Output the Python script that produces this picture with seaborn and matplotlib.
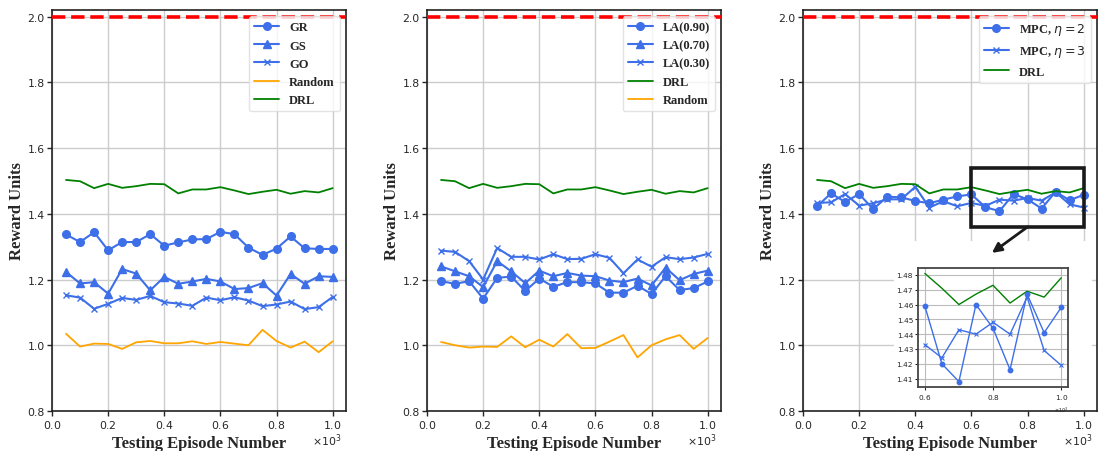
import numpy as np
import pandas as pd
import matplotlib
matplotlib.use("Agg")
import matplotlib.pyplot as plt
import seaborn as sns
from matplotlib.patches import Rectangle

# ---------------- data ----------------
episodes = [50, 100, 150, 200, 250, 300, 350, 400, 450, 500,
            550, 600, 650, 700, 750, 800, 850, 900, 950, 1000]

drl = [1.503, 1.499, 1.478, 1.491, 1.479, 1.484, 1.491, 1.490, 1.462, 1.474,
       1.474, 1.481, 1.471, 1.460, 1.467, 1.473, 1.461, 1.469, 1.465, 1.478]

# panel 1
gr = [1.337, 1.314, 1.344, 1.289, 1.314, 1.314, 1.338, 1.303, 1.313, 1.322,
      1.323, 1.345, 1.338, 1.297, 1.275, 1.294, 1.331, 1.295, 1.293, 1.293]
gs = [1.223, 1.188, 1.192, 1.157, 1.232, 1.218, 1.167, 1.208, 1.187, 1.194,
      1.202, 1.194, 1.171, 1.174, 1.189, 1.151, 1.217, 1.187, 1.210, 1.208]
go = [1.152, 1.145, 1.111, 1.126, 1.144, 1.138, 1.150, 1.131, 1.127, 1.120,
      1.145, 1.137, 1.146, 1.136, 1.119, 1.124, 1.133, 1.110, 1.116, 1.147]
random1 = [1.035, 0.996, 1.005, 1.004, 0.989, 1.009, 1.013, 1.006, 1.006, 1.012,
           1.004, 1.010, 1.005, 1.000, 1.047, 1.013, 0.993, 1.011, 0.979, 1.012]

# panel 2
la90 = [1.195, 1.187, 1.195, 1.142, 1.205, 1.209, 1.165, 1.203, 1.178, 1.192,
        1.192, 1.188, 1.160, 1.160, 1.181, 1.156, 1.210, 1.168, 1.174, 1.194]
la70 = [1.240, 1.225, 1.210, 1.177, 1.256, 1.225, 1.189, 1.227, 1.210, 1.220,
        1.212, 1.210, 1.197, 1.192, 1.203, 1.182, 1.236, 1.198, 1.217, 1.227]
la30 = [1.288, 1.284, 1.256, 1.200, 1.296, 1.269, 1.269, 1.261, 1.277, 1.262,
        1.263, 1.277, 1.266, 1.219, 1.261, 1.239, 1.268, 1.262, 1.267, 1.278]
random2 = [1.010, 1.000, 0.993, 0.996, 0.995, 1.027, 0.994, 1.017, 0.996, 1.034,
           0.991, 0.992, 1.011, 1.031, 0.963, 1.000, 1.018, 1.031, 0.989, 1.022]

# panel 3
mpc2 = [1.423, 1.462, 1.436, 1.460, 1.414, 1.452, 1.450, 1.439, 1.432, 1.443,
        1.453, 1.459, 1.420, 1.408, 1.460, 1.444, 1.416, 1.467, 1.441, 1.458]
mpc3 = [1.433, 1.435, 1.460, 1.425, 1.432, 1.444, 1.444, 1.482, 1.419, 1.438,
        1.423, 1.433, 1.424, 1.443, 1.440, 1.448, 1.440, 1.465, 1.429, 1.419]

upper_bound = 2.0
zoom_start = 11  # inset shows episodes 600..1000

labels1 = ["GR", "GS", "GO", "Random", "DRL"]
labels2 = ["LA(0.90)", "LA(0.70)", "LA(0.30)", "DRL", "Random"]
labels3 = [r"MPC, $\eta = 2$", r"MPC, $\eta = 3$", "DRL"]
xlabel = "Testing Episode Number"
ylabel = "Reward Units"
offset_label = r"$\times10^{3}$"

# ---------------- style ----------------
sns.set_theme(style="ticks")
plt.rcParams['font.family'] = ['DejaVu Sans']
plt.rcParams['mathtext.fontset'] = 'dejavusans'

BLUE = '#3d6fe8'
GREEN = 'green'
ORANGE = 'orange'
RED = 'red'

label_font = dict(family='Liberation Serif', weight='bold', size=12)
legend_prop = dict(family='Liberation Serif', weight='bold', size=9)

fig = plt.figure(figsize=(11.04, 4.52), dpi=100)
W, H = 1104, 452
lefts = [52, 427, 803]
axw, axh = 294, 401
bottom = 452 - 412
axes = [fig.add_axes([l / W, bottom / H, axw / W, axh / H]) for l in lefts]


def blue_line(ax, x, y, marker, label=None, ms=5.5, lw=1.5, mew=1.0):
    sns.lineplot(x=x, y=y, ax=ax, color=BLUE, marker=marker, markersize=ms,
                 markeredgecolor=BLUE, markerfacecolor=BLUE, markeredgewidth=mew,
                 linewidth=lw, label=label, errorbar=None)


def plain_line(ax, x, y, color, label=None, lw=1.3):
    sns.lineplot(x=x, y=y, ax=ax, color=color, linewidth=lw,
                 label=label, errorbar=None)


def finish(ax):
    ax.axhline(upper_bound, color=RED, ls='--', lw=2.6, zorder=3)
    ax.set_xlim(0, 1047.5)
    ax.set_ylim(0.8, 2.02)
    ax.set_xticks([0, 200, 400, 600, 800, 1000])
    ax.set_yticks([0.8, 1.0, 1.2, 1.4, 1.6, 1.8, 2.0])
    ax.ticklabel_format(axis='x', style='sci', scilimits=(3, 3), useMathText=True)
    ax.xaxis.get_offset_text().set_visible(False)
    ax.text(0.985, -0.052, offset_label, transform=ax.transAxes, ha='right', va='top',
            fontsize=7.8, color='#262626')
    ax.tick_params(labelsize=7.8, length=3.5, width=1, pad=1.8)
    ax.grid(True, color='#cccccc', lw=1.0)
    ax.set_axisbelow(True)
    for s in ax.spines.values():
        s.set_linewidth(1.2)
        s.set_color('#222222')
    ax.set_xlabel(xlabel, fontdict=label_font, labelpad=3)
    ax.set_ylabel(ylabel, fontdict=label_font, labelpad=2)
    handles, labs = ax.get_legend_handles_labels()
    ax.legend(handles, labs, loc='upper right', prop=legend_prop,
              framealpha=0.8, edgecolor='#dddddd', fancybox=True)


# panel 1
ax = axes[0]
blue_line(ax, episodes, gr, 'o', labels1[0])
blue_line(ax, episodes, gs, '^', labels1[1])
blue_line(ax, episodes, go, 'x', labels1[2], ms=5)
plain_line(ax, episodes, random1, ORANGE, labels1[3])
plain_line(ax, episodes, drl, GREEN, labels1[4])
finish(ax)

# panel 2
ax = axes[1]
blue_line(ax, episodes, la90, 'o', labels2[0])
blue_line(ax, episodes, la70, '^', labels2[1])
blue_line(ax, episodes, la30, 'x', labels2[2], ms=5)
plain_line(ax, episodes, drl, GREEN, labels2[3])
plain_line(ax, episodes, random2, ORANGE, labels2[4])
finish(ax)

# panel 3
ax = axes[2]
blue_line(ax, episodes, mpc2, 'o', labels3[0])
blue_line(ax, episodes, mpc3, 'x', labels3[1], ms=5)
plain_line(ax, episodes, drl, GREEN, labels3[2])
finish(ax)

# zoom box + arrow
x0 = episodes[zoom_start]
x1 = episodes[-1]
ax.add_patch(Rectangle((x0, 1.36), x1 - x0, 0.18, fill=False,
                       ec='#1a1a1a', lw=2.6, zorder=4))
ax.annotate('', xy=(673, 1.281), xytext=(800, 1.36),
            arrowprops=dict(arrowstyle='-|>', color='#1a1a1a', lw=2,
                            mutation_scale=14, shrinkA=0, shrinkB=0), zorder=5)
# white backing behind the inset
ax.add_patch(Rectangle((0.311, 0.0), 0.983 - 0.311, 0.424,
                       transform=ax.transAxes, fc='white', ec='none', zorder=1.5))

# inset
axins = fig.add_axes([918 / W, (452 - 388) / H, 150 / W, 119 / H])
ep_z = episodes[zoom_start:]
plain_line(axins, ep_z, drl[zoom_start:], GREEN, lw=1.0)
blue_line(axins, ep_z, mpc2[zoom_start:], 'o', ms=3.2, lw=1.0)
blue_line(axins, ep_z, mpc3[zoom_start:], 'x', ms=3, lw=1.0, mew=0.8)
axins.set_xticks([600, 800, 1000])
axins.set_yticks([1.41, 1.42, 1.43, 1.44, 1.45, 1.46, 1.47, 1.48])
axins.ticklabel_format(axis='x', style='sci', scilimits=(3, 3), useMathText=True)
axins.xaxis.get_offset_text().set_fontsize(3.5)
axins.tick_params(labelsize=5.3, length=2, width=0.8, pad=1.5)
axins.grid(True, color='#bbbbbb', lw=0.8)
axins.set_axisbelow(True)
axins.set_xlabel('')
axins.set_ylabel('')
if axins.get_legend() is not None:
    axins.get_legend().remove()
for s in axins.spines.values():
    s.set_linewidth(1.3)
    s.set_color('#444444')

fig.savefig('out.png', dpi=100)
